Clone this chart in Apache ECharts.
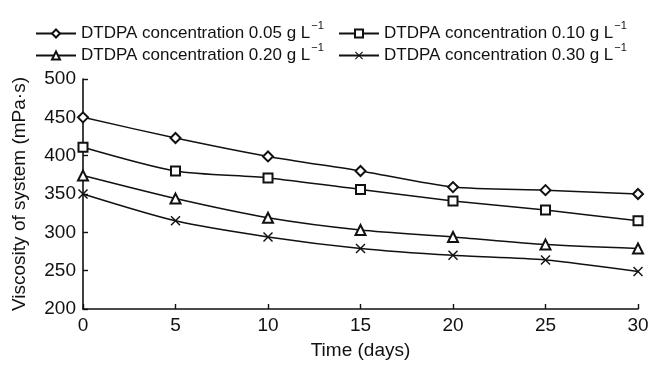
<!DOCTYPE html>
<html><head><meta charset="utf-8">
<script src="https://cdn.jsdelivr.net/npm/echarts@6/dist/echarts.min.js"></script>
<style>html,body{margin:0;padding:0;background:#fff}#c{width:655px;height:365px}</style>
</head><body><div id="c"></div>
<script>
const days = [0, 5, 10, 15, 20, 25, 30];
const names = ['DTDPA concentration 0.05 g L', 'DTDPA concentration 0.10 g L', 'DTDPA concentration 0.20 g L', 'DTDPA concentration 0.30 g L'];
const v005 = [450, 423, 399, 380, 359, 355, 350];
const v010 = [411, 380, 371, 356, 341, 329, 315];
const v020 = [374, 344, 319, 303, 294, 284, 279];
const v030 = [350, 315, 294, 279, 270, 264, 249];
const yTicks = [200, 250, 300, 350, 400, 450, 500];

const crossPath = 'path://M0,1 L1,0 L5,4 L9,0 L10,1 L6,5 L10,9 L9,10 L5,6 L1,10 L0,9 L4,5 Z';
const symbols = ['emptyDiamond', 'emptyRect', 'emptyTriangle', crossPath];
const sizes = [10, 9, 10, 10];
const vals = [v005, v010, v020, v030];
const font = 'Liberation Sans, Arial, sans-serif';
const ink = '#111';

const chart = echarts.init(document.getElementById('c'));
const legendPos = [[35, 20], [338, 20], [35, 42], [338, 42]];
const legends = names.map((n, i) => ({
  orient: 'horizontal', itemWidth: 40, itemHeight: 10, itemGap: 0,
  left: legendPos[i][0], top: legendPos[i][1], padding: 0,
  data: [n],
  textStyle: {
    fontFamily: font, fontSize: 17, color: ink,
    rich: {
      a: { fontFamily: font, fontSize: 17, color: ink },
      s: { fontFamily: font, fontSize: 11, color: ink, padding: [0, 0, 16, 1] }
    }
  },
  formatter: t => '{a|' + t + '}{s|\u22121}'
}));
chart.setOption({
  animation: false,
  backgroundColor: '#fff',
  grid: { left: 83, right: 17, top: 79, bottom: 52 },
  legend: legends,
  xAxis: {
    type: 'value', min: 0, max: 30, interval: 5,
    name: 'Time (days)', nameLocation: 'middle', nameGap: 32,
    nameTextStyle: { fontFamily: font, fontSize: 19, color: ink },
    axisLine: { lineStyle: { color: ink, width: 1.6 } },
    axisTick: { inside: true, length: 5, lineStyle: { color: ink, width: 1.4 } },
    axisLabel: { fontFamily: font, fontSize: 19, color: ink, margin: 7 },
    splitLine: { show: false }
  },
  yAxis: {
    type: 'value', min: yTicks[0], max: yTicks[yTicks.length - 1], interval: 50,
    name: 'Viscosity of system (mPa\u00b7s)', nameLocation: 'middle', nameGap: 54,
    nameTextStyle: { fontFamily: font, fontSize: 19, color: ink },
    axisLine: { show: true, lineStyle: { color: ink, width: 1.6 } },
    axisTick: { show: true, inside: true, length: 5, lineStyle: { color: ink, width: 1.4 } },
    axisLabel: { fontFamily: font, fontSize: 19, color: ink, margin: 7 },
    splitLine: { show: false }
  },
  series: vals.map((v, i) => ({
    name: names[i], type: 'line', smooth: 0.25,
    data: days.map((d, j) => [d, v[j]]),
    symbol: symbols[i], symbolSize: sizes[i],
    showAllSymbol: true,
    lineStyle: { color: ink, width: 1.5 },
    itemStyle: { color: ink, borderColor: ink, borderWidth: i === 3 ? 0 : 1.5 },
    z: 2 + i
  }))
});
</script></body></html>
